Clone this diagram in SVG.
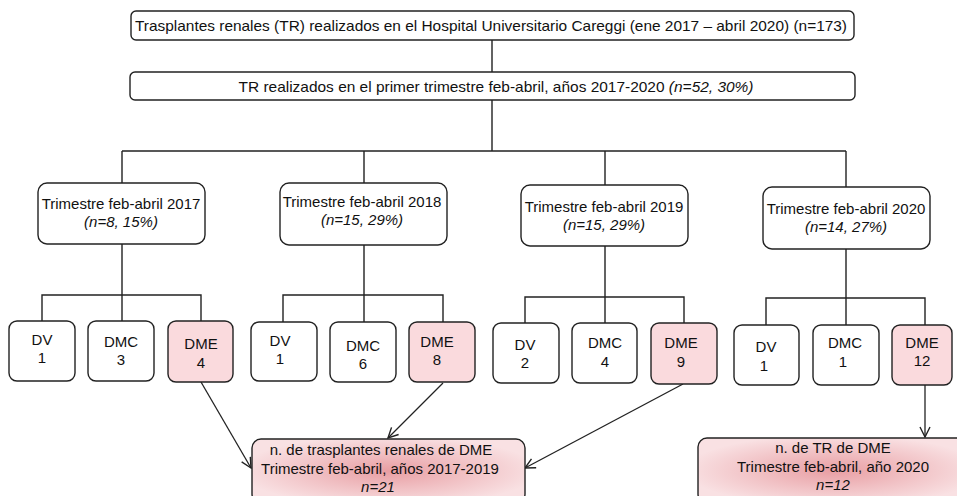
<svg xmlns="http://www.w3.org/2000/svg" width="957" height="496" viewBox="0 0 957 496">
<style>
text{font-family:"Liberation Sans",Arial,sans-serif;font-size:15px;fill:#111;text-anchor:middle}
.it{font-style:italic}
.box{fill:#fff;stroke:#222;stroke-width:1.4}
.dme{fill:#fadadd;stroke:#222;stroke-width:1.4}
.sum{fill:url(#g);stroke:#222;stroke-width:1.4}
.ln{fill:none;stroke:#222;stroke-width:1.4}
.ar{fill:none;stroke:#222;stroke-width:1.3;marker-end:url(#m)}
</style>
<defs>
<radialGradient id="g" cx="0.5" cy="0.5" r="0.55">
<stop offset="0" stop-color="#e89ea3"/>
<stop offset="1" stop-color="#f9e1e3"/>
</radialGradient>
<marker id="m" viewBox="0 0 12 12" refX="11" refY="6" markerWidth="12" markerHeight="12" markerUnits="userSpaceOnUse" orient="auto">
<path d="M1,1 L11,6 L1,11" fill="none" stroke="#222" stroke-width="1.4"/>
</marker>
</defs>
<g id="connectors">
<path class="ln" d="M492,40V72M492,100V151M122,151H846M122,151V183M364,151V183M605,151V185M846,151V187"/>
<path class="ln" d="M122,244V295M42,321V295H201V321M122,295V321"/>
<path class="ln" d="M364,245V295M283,322V295H443V322M364,295V322"/>
<path class="ln" d="M605,246V297M525,323V297H684V323M605,297V323"/>
<path class="ln" d="M846,249V298M766,325V298H925V325M846,298V325"/>
<path class="ar" d="M201,382L251,468"/>
<path class="ar" d="M443,383L388,438"/>
<path class="ar" d="M683,384L525,468"/>
<path class="ar" d="M925,385V437"/>
</g>
<g id="top">
<rect class="box" x="131" y="11" width="723" height="29" rx="5"/>
<text x="491" y="31" textLength="712" lengthAdjust="spacingAndGlyphs">Trasplantes renales (TR) realizados en el Hospital Universitario Careggi (ene 2017 – abril 2020) (n=173)</text>
</g>
<g id="tr">
<rect class="box" x="130" y="72" width="725" height="28" rx="5"/>
<text x="496" y="92" textLength="515" lengthAdjust="spacingAndGlyphs">TR realizados en el primer trimestre feb-abril, años 2017-2020 <tspan class="it">(n=52, 30%)</tspan></text>
</g>
<g id="t2017">
<rect class="box" x="38" y="183" width="167" height="61" rx="9"/>
<text x="121" y="209">Trimestre feb-abril 2017</text>
<text class="it" x="121" y="227">(n=8, 15%)</text>
</g>
<g id="t2018">
<rect class="box" x="280" y="183" width="167" height="62" rx="9"/>
<text x="362" y="207">Trimestre feb-abril 2018</text>
<text class="it" x="362" y="225">(n=15, 29%)</text>
</g>
<g id="t2019">
<rect class="box" x="521" y="185" width="167" height="61" rx="9"/>
<text x="604" y="212">Trimestre feb-abril 2019</text>
<text class="it" x="604" y="230">(n=15, 29%)</text>
</g>
<g id="t2020">
<rect class="box" x="763" y="187" width="167" height="62" rx="9"/>
<text x="846" y="214">Trimestre feb-abril 2020</text>
<text class="it" x="846" y="232">(n=14, 27%)</text>
</g>
<g id="dv2017"><rect class="box" x="9" y="321" width="66" height="60" rx="8"/><text x="42" y="345">DV</text><text x="42" y="363">1</text></g>
<g id="dmc2017"><rect class="box" x="88" y="321" width="66" height="60" rx="8"/><text x="121" y="347">DMC</text><text x="121" y="365">3</text></g>
<g id="dme2017"><rect class="dme" x="168" y="321" width="65" height="61" rx="8"/><text x="201" y="349">DME</text><text x="201" y="368">4</text></g>
<g id="dv2018"><rect class="box" x="251" y="322" width="66" height="59" rx="8"/><text x="280" y="346">DV</text><text x="280" y="364">1</text></g>
<g id="dmc2018"><rect class="box" x="330" y="322" width="66" height="60" rx="8"/><text x="363" y="351">DMC</text><text x="363" y="369">6</text></g>
<g id="dme2018"><rect class="dme" x="409" y="322" width="66" height="60" rx="8"/><text x="437" y="347">DME</text><text x="437" y="365">8</text></g>
<g id="dv2019"><rect class="box" x="493" y="323" width="66" height="60" rx="8"/><text x="525" y="350">DV</text><text x="525" y="368">2</text></g>
<g id="dmc2019"><rect class="box" x="572" y="323" width="65" height="60" rx="8"/><text x="605" y="348">DMC</text><text x="605" y="367">4</text></g>
<g id="dme2019"><rect class="dme" x="651" y="323" width="66" height="61" rx="8"/><text x="681" y="348">DME</text><text x="681" y="367">9</text></g>
<g id="dv2020"><rect class="box" x="734" y="325" width="65" height="60" rx="8"/><text x="766" y="352">DV</text><text x="764" y="371">1</text></g>
<g id="dmc2020"><rect class="box" x="813" y="325" width="66" height="60" rx="8"/><text x="845" y="348">DMC</text><text x="843" y="367">1</text></g>
<g id="dme2020"><rect class="dme" x="892" y="325" width="60" height="60" rx="8"/><text x="922" y="348">DME</text><text x="922" y="366">12</text></g>
<g id="sum1719">
<rect class="sum" x="252" y="439" width="273" height="64" rx="9"/>
<text x="381" y="455">n. de trasplantes renales de DME</text>
<text x="380" y="474">Trimestre feb-abril, años 2017-2019</text>
<text class="it" x="378" y="492">n=21</text>
</g>
<g id="sum2020">
<rect class="sum" x="698" y="438" width="272" height="65" rx="9"/>
<text x="833" y="453">n. de TR de DME</text>
<text x="833" y="472">Trimestre feb-abril, año 2020</text>
<text class="it" x="833" y="490">n=12</text>
</g>
</svg>
